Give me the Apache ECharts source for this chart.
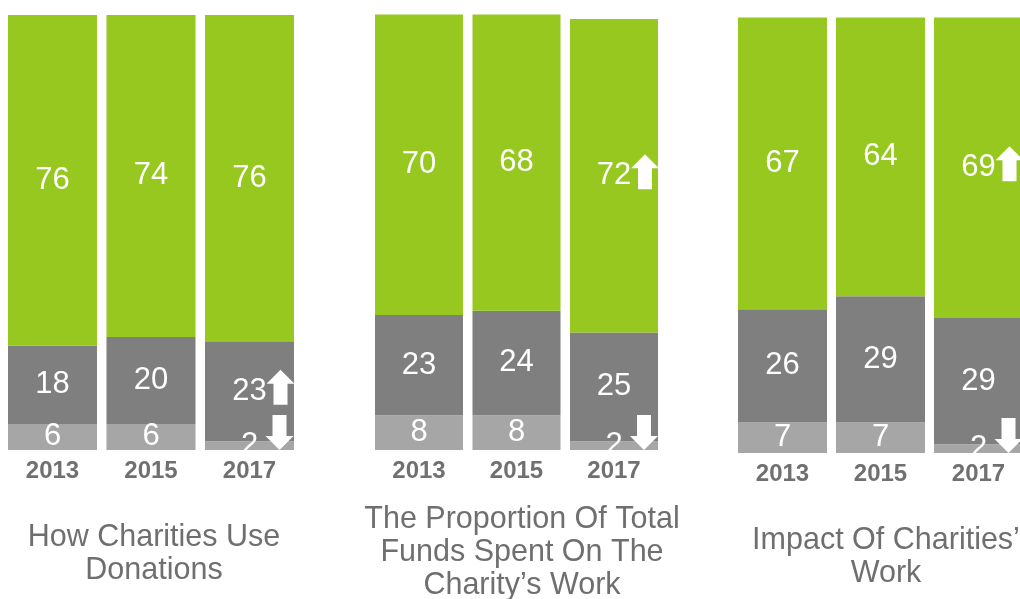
<!DOCTYPE html>
<html>
<head>
<meta charset="utf-8">
<script src="https://cdn.jsdelivr.net/npm/echarts@6/dist/echarts.min.js"></script>
<style>
  html, body { margin: 0; padding: 0; background: #ffffff; }
  #chart { width: 1020px; height: 599px; }
</style>
</head>
<body>
<div id="chart"></div>
<script>
// Survey years shown under every panel
const years = ['2013', '2015', '2017'];

// Panel captions
const titles = [
  'How Charities Use\nDonations',
  'The Proportion Of Total\nFunds Spent On The\nCharity’s Work',
  'Impact Of Charities’\nWork'
];

// Shares per year: low (light grey), mid (dark grey), top (green)
const donationsLow = [6, 6, 2];
const donationsMid = [18, 20, 23];
const donationsTop = [76, 74, 76];

const fundsLow = [8, 8, 2];
const fundsMid = [23, 24, 25];
const fundsTop = [70, 68, 72];

const impactLow = [7, 7, 2];
const impactMid = [26, 29, 29];
const impactTop = [67, 64, 69];

// Change markers on the latest year: [segment, direction]
const donationsArrows = [['mid', 'up'], ['low', 'down']];
const fundsArrows = [['top', 'up'], ['low', 'down']];
const impactArrows = [['top', 'up'], ['low', 'down']];

const FONT = '"Liberation Sans", Arial, Helvetica, sans-serif';
const COLORS = { low: '#a6a6a6', mid: '#7f7f7f', top: '#97c81f' };

const UP_ARROW = 'path://M14 0 L28 14 L21 14 L21 35 L7 35 L7 14 L0 14 Z';
const DOWN_ARROW = 'path://M7 0 L21 0 L21 21 L28 21 L14 35 L0 21 L7 21 Z';

const panels = [
  { low: donationsLow, mid: donationsMid, top: donationsTop, arrows: donationsArrows,
    grid: { left: 3.25, width: 295.5, top: 15, height: 435 }, barWidth: 89,
    title: { x: 154, y: 554.5 } },
  { low: fundsLow, mid: fundsMid, top: fundsTop, arrows: fundsArrows,
    grid: { left: 370.25, width: 292.5, top: 14.6, height: 435.4 }, barWidth: 88,
    title: { x: 522, y: 553 } },
  { low: impactLow, mid: impactMid, top: impactTop, arrows: impactArrows,
    grid: { left: 733.5, width: 294, top: 17.5, height: 435.5 }, barWidth: 89,
    title: { x: 886, y: 557 } }
];

const grids = [], xAxes = [], yAxes = [], series = [], graphics = [];

panels.forEach((p, i) => {
  grids.push(Object.assign({ outerBoundsMode: 'none', containLabel: false }, p.grid));
  xAxes.push({
    type: 'category', gridIndex: i, data: years,
    axisLine: { show: false }, axisTick: { show: false },
    axisLabel: { color: '#707070', fontWeight: 'bold', fontSize: 24, fontFamily: FONT, margin: 9 }
  });
  yAxes.push({ type: 'value', gridIndex: i, min: 0, max: 100, show: false, splitLine: { show: false } });

  const last = years.length - 1;
  const order = ['low', 'mid', 'top'];
  order.forEach((key, k) => {
    const values = p[key];
    // base of this segment on the latest bar
    let base = 0;
    for (let j = 0; j < k; j++) base += p[order[j]][last];
    const marks = p.arrows.filter(a => a[0] === key).map(a => {
      const up = a[1] === 'up';
      return {
        coord: [years[last], up ? base + values[last] / 2 : base],
        symbol: up ? UP_ARROW : DOWN_ARROW,
        symbolSize: [28, 35],
        symbolOffset: up ? [31, -4] : [30, -17.5]
      };
    });
    series.push({
      type: 'bar', name: key, stack: 'panel' + i,
      xAxisIndex: i, yAxisIndex: i,
      data: values, barWidth: p.barWidth,
      itemStyle: { color: COLORS[key] },
      label: {
        show: true, position: 'inside', color: '#ffffff',
        fontSize: 31, fontFamily: FONT, textBorderWidth: 0
      },
      markPoint: marks.length ? {
        silent: true, animation: false,
        itemStyle: { color: '#ffffff' },
        label: { show: false },
        data: marks
      } : undefined
    });
  });

  graphics.push({
    type: 'text', x: p.title.x, y: p.title.y,
    style: {
      text: titles[i], fill: '#6f6f6f',
      font: '30.5px ' + FONT, fontSize: 30.5, fontFamily: FONT,
      align: 'center', verticalAlign: 'middle',
      textAlign: 'center', textVerticalAlign: 'middle',
      lineHeight: 33
    }
  });
});

const chart = echarts.init(document.getElementById('chart'));
chart.setOption({
  animation: false,
  backgroundColor: '#ffffff',
  grid: grids,
  xAxis: xAxes,
  yAxis: yAxes,
  series: series,
  graphic: graphics
});
</script>
</body>
</html>
